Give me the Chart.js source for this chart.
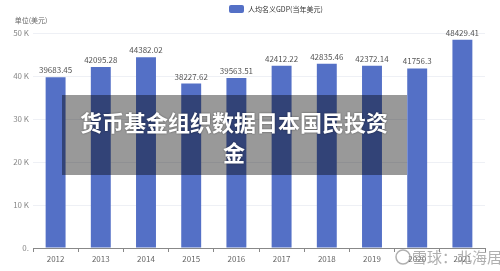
<!DOCTYPE html>
<html>
<head>
<meta charset="utf-8">
<script src="https://cdn.jsdelivr.net/npm/chart.js@4"></script>
<style>
  body { margin: 0; background: #fff; }
  #wrap { width: 500px; height: 271px; }
</style>
</head>
<body>
<div id="wrap"><canvas id="myChart" width="500" height="271"></canvas></div>
<script>
// data
const years = ["2012", "2013", "2014", "2015", "2016", "2017", "2018", "2019", "2020", "2021"]
const gdpPerCapita = [39683.45, 42095.28, 44382.02, 38227.62, 39563.51, 42412.22, 42835.46, 42372.14, 41756.3, 48429.41]
const yTicks = [0, 10000, 20000, 30000, 40000, 50000]
const seriesName = "人均名义GDP(当年美元)"
const unitLabel = "单位(美元)"
const overlayTitle = ["货币基金组织数据日本国民投资", "金"]
const watermark = "雪球：北海居"

const font = '"Noto Sans CJK SC", "Noto Sans", sans-serif'

// labels above bars, legend, unit and the overlay box
const extras = {
  id: "extras",
  afterDatasetsDraw(chart) {
    const ctx = chart.ctx
    const meta = chart.getDatasetMeta(0)
    ctx.save()
    ctx.font = "8px " + font
    ctx.fillStyle = "#555"
    ctx.textAlign = "center"
    ctx.textBaseline = "bottom"
    meta.data.forEach((bar, i) => {
      ctx.fillText(String(gdpPerCapita[i]), bar.x, bar.y - 3)
    })
    ctx.restore()
  },
  afterDraw(chart) {
    const ctx = chart.ctx
    ctx.save()
    // legend
    ctx.fillStyle = "#5470c6"
    ctx.beginPath()
    ctx.roundRect(229, 5, 15, 8, 2)
    ctx.fill()
    ctx.font = "7px " + font
    ctx.fillStyle = "#333"
    ctx.textBaseline = "middle"
    ctx.textAlign = "left"
    ctx.fillText(seriesName, 248, 9)
    // unit
    ctx.fillStyle = "#666"
    ctx.textAlign = "center"
    ctx.fillText(unitLabel, 31, 20)

    // overlay
    ctx.fillStyle = "rgba(0,0,0,0.4)"
    ctx.fillRect(62, 95, 345, 80)
    ctx.font = "bold 22px " + font
    ctx.fillStyle = "#fff"
    ctx.shadowColor = "rgba(0,0,0,0.5)"
    ctx.shadowBlur = 2
    ctx.textAlign = "center"
    ctx.fillText(overlayTitle[0], 234, 123)
    ctx.fillText(overlayTitle[1], 234, 153)
    ctx.shadowBlur = 0

    // watermark
    ctx.font = "15px " + font
    ctx.fillStyle = "rgba(150,150,150,0.75)"
    ctx.textAlign = "left"
    ctx.fillText(watermark, 412, 257)
    ctx.strokeStyle = "rgba(150,150,150,0.75)"
    ctx.lineWidth = 1.5
    ctx.beginPath()
    ctx.arc(403, 257, 7, 0, Math.PI * 2)
    ctx.stroke()
    ctx.restore()
  },
}

new Chart(document.querySelector("#myChart"), {
  type: "bar",
  data: {
    labels: years,
    datasets: [
      {
        label: seriesName,
        data: gdpPerCapita,
        backgroundColor: "#5470c6",
        barPercentage: 0.9,
        categoryPercentage: 0.49,
      },
    ],
  },
  options: {
    responsive: false,
    animation: false,
    layout: { padding: { left: 0, right: 15, top: 33, bottom: 0 } },
    plugins: {
      legend: { display: false },
      tooltip: { enabled: false },
    },
    scales: {
      x: {
        offset: true,
        grid: {
          offset: true,
          drawOnChartArea: false,
          drawTicks: true,
          tickLength: 4,
          color: "#888",
        },
        border: { color: "#888" },
        ticks: { color: "#666", font: { size: 8, family: font }, padding: 2 },
        afterFit(scale) {
          scale.height = 23
        },
      },
      y: {
        min: 0,
        max: 50000,
        afterBuildTicks(scale) {
          scale.ticks = yTicks.map((v) => ({ value: v }))
        },
        grid: { color: "#eef0f5", drawTicks: false },
        border: { display: false },
        ticks: {
          color: "#888",
          font: { size: 8, family: font },
          padding: 4,
          callback: (v) => (v === 0 ? "0." : v / 1000 + " K"),
        },
        afterFit(scale) {
          scale.width = 33
        },
      },
    },
  },
  plugins: [extras],
})
</script>
</body>
</html>
